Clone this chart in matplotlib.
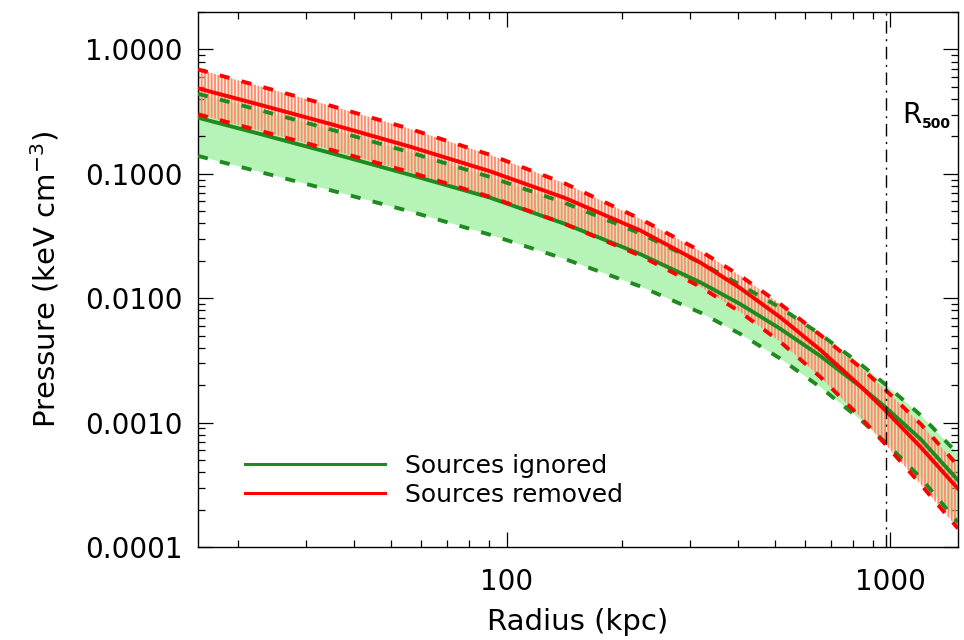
import numpy as np
import matplotlib
matplotlib.use('Agg')
import matplotlib.pyplot as plt
from matplotlib.lines import Line2D
from matplotlib.ticker import FixedLocator, LogLocator, NullFormatter

plt.rcParams['font.family'] = ['DejaVu Sans']
plt.rcParams['hatch.linewidth'] = 1.3

radius = [15.7, 22.7, 35.2, 55.9, 90.5, 142, 223, 320, 406, 516, 657, 835, 970, 1200, 1500]

# sources removed (red): best fit and envelope
removed_hi = [0.691, 0.5072, 0.3494, 0.2304, 0.1423, 0.0836, 0.04346, 0.02396, 0.01517,
              0.00900, 0.00506, 0.002779, 0.001840, 0.000972, 0.000450]
removed_mid = [0.4870, 0.3600, 0.2490, 0.1658, 0.1049, 0.0639, 0.03506, 0.01932, 0.01206,
               0.00704, 0.00384, 0.001965, 0.001253, 0.000634, 0.000294]
removed_lo = [0.3011, 0.2226, 0.1547, 0.1034, 0.0654, 0.03950, 0.02197, 0.01233, 0.00775,
              0.00447, 0.002325, 0.001106, 0.000669, 0.000318, 0.0001408]

# sources ignored (green): best fit and envelope
ignored_hi = [0.4405, 0.3257, 0.2253, 0.1492, 0.0944, 0.0583, 0.03317, 0.01930, 0.01282,
              0.00842, 0.00513, 0.002958, 0.002032, 0.001145, 0.000560]
ignored_mid = [0.2828, 0.2099, 0.1458, 0.0984, 0.0644, 0.03958, 0.02262, 0.01340, 0.00898,
               0.00569, 0.003429, 0.001953, 0.001332, 0.000734, 0.000344]
ignored_lo = [0.1394, 0.1038, 0.0731, 0.0500, 0.03242, 0.02066, 0.01246, 0.00766, 0.00517,
              0.003278, 0.001926, 0.001058, 0.000695, 0.000359, 0.0001574]

r500 = 975
ytick_vals = [1e-4, 1e-3, 1e-2, 1e-1, 1.0]
ytick_labels = ['0.0001', '0.0010', '0.0100', '0.1000', '1.0000']
xtick_vals = [100, 1000]
xtick_labels = ['100', '1000']

green = '#1f8a1f'
red = '#ff0000'

fig = plt.figure(figsize=(9.64, 6.4), dpi=100)
ax = fig.add_axes([0.2054, 0.1453, 0.7884, 0.8359])
ax.set_xscale('log')
ax.set_yscale('log')

# bands
ax.fill_between(radius, ignored_lo, ignored_hi, facecolor='#b6f3b6', edgecolor='none', zorder=1)
ax.fill_between(radius, removed_lo, removed_hi, facecolor=(1.0, 0.84, 0.78, 0.35),
                edgecolor='#ff8a66', hatch='|||||', linewidth=0, zorder=2)

lw = 2.8
dash = (2.6, 3.2)
ax.plot(radius, ignored_hi, color=green, lw=lw, dashes=dash, zorder=3)
ax.plot(radius, ignored_lo, color=green, lw=lw, dashes=dash, zorder=3)
ax.plot(radius, ignored_mid, color=green, lw=lw, zorder=4)
ax.plot(radius, removed_hi, color=red, lw=lw, dashes=dash, zorder=5)
ax.plot(radius, removed_lo, color=red, lw=lw, dashes=dash, zorder=5)
ax.plot(radius, removed_mid, color=red, lw=lw, zorder=6)

ax.axvline(r500, color='black', lw=1.0, dashes=(9, 4, 1.5, 4), zorder=7)
ax.text(1073, 0.258, 'R', fontsize=20, ha='left', va='baseline')
ax.annotate('500', xy=(1073, 0.258), xytext=(14.4, -3.6), textcoords='offset points',
            fontsize=10, fontweight='bold', ha='left', va='baseline')

ax.set_xlim(15.7, 1500)
ax.set_ylim(1e-4, 2.0)

ax.xaxis.set_major_locator(FixedLocator(xtick_vals))
ax.set_xticklabels(xtick_labels)
ax.xaxis.set_minor_locator(LogLocator(base=10, subs=np.arange(2, 10)))
ax.xaxis.set_minor_formatter(NullFormatter())
ax.yaxis.set_major_locator(FixedLocator(ytick_vals))
ax.set_yticklabels(ytick_labels)
ax.yaxis.set_minor_locator(LogLocator(base=10, subs=np.arange(2, 10)))
ax.yaxis.set_minor_formatter(NullFormatter())

ax.tick_params(which='both', direction='in', top=True, right=True, width=0.9, colors='black')
ax.tick_params(which='major', length=10.5)
ax.tick_params(which='minor', length=5)
ax.tick_params(axis='y', which='major', labelsize=20, pad=11)
ax.tick_params(axis='x', which='major', labelsize=20, pad=15)
for s in ax.spines.values():
    s.set_linewidth(1.0)

ax.set_xlabel('Radius (kpc)', fontsize=21, labelpad=9)
ax.set_ylabel('Pressure (keV cm$^{-3}$)', fontsize=21, labelpad=17)

handles = [Line2D([], [], color=green, lw=2.2), Line2D([], [], color=red, lw=2.2)]
ax.legend(handles, ['Sources ignored', 'Sources removed'], loc='center left',
          bbox_to_anchor=(0.0618, 0.1245), frameon=False, fontsize=18,
          handlelength=5.6, handletextpad=0.8, labelspacing=0.2,
          borderpad=0, borderaxespad=0)

fig.savefig('out.png', dpi=100)
